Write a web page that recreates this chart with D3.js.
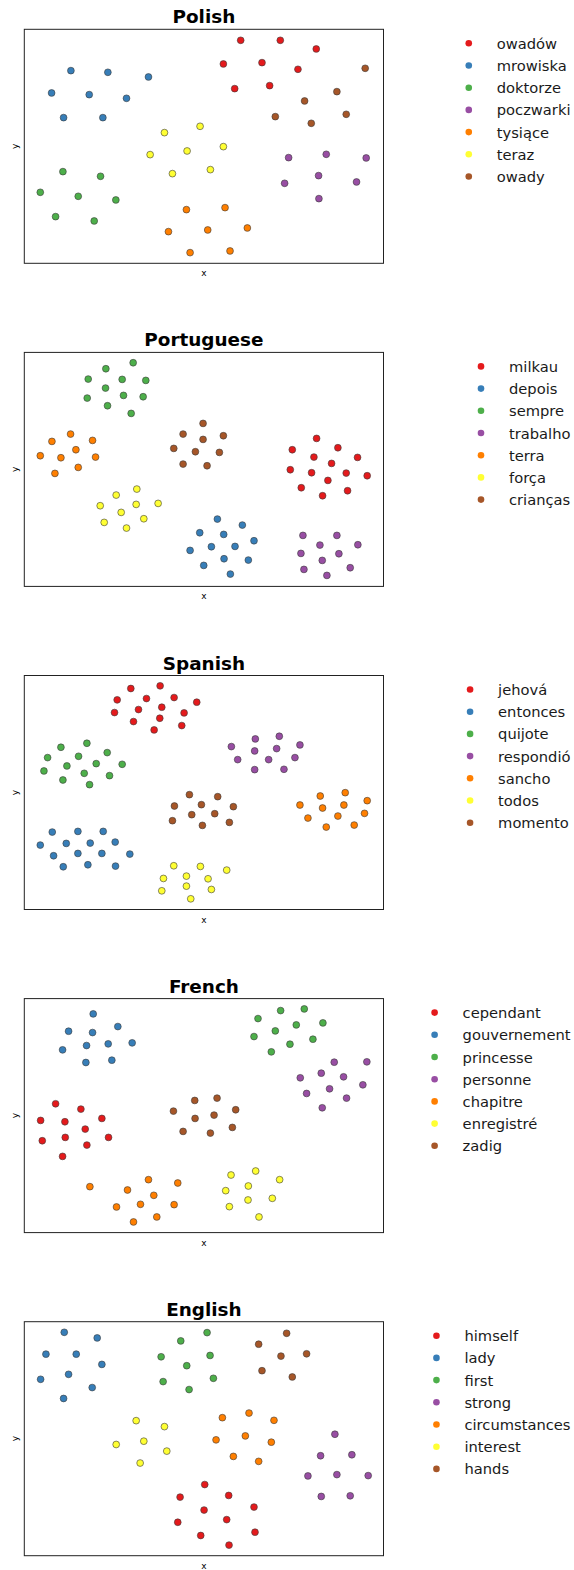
<!DOCTYPE html>
<html>
<head>
<meta charset="utf-8">
<script src="https://cdn.jsdelivr.net/npm/d3@7"></script>
<style>
  html, body { margin: 0; padding: 0; background: #fff; }
  svg { display: block; font-family: "DejaVu Sans", sans-serif; }
</style>
</head>
<body>
<svg id="chart" width="574" height="1570"></svg>
<script>
// ---- Data (t-SNE coordinates, arbitrary units) ----
const titles = ["Polish", "Portuguese", "Spanish", "French", "English"];
const colors = ["#e41a1c", "#377eb8", "#4daf4a", "#984ea3", "#ff7f00", "#ffff33", "#a65628"];

const xLimits = [13, 1092];
const yLimits = [[88, 790], [83, 785], [77, 778], [87, 790], [80, 787]];

const polishWords = ["owadów", "mrowiska", "doktorze", "poczwarki", "tysiące", "teraz", "owady"];
const polishPoints = [
  [[663,121],[782,121],[890,147],[611,192],[727,188],[835,208],[645,266],[750,257]],
  [[153,212],[264,217],[386,231],[95,279],[208,284],[320,295],[131,353],[249,353]],
  [[129,515],[242,529],[61,577],[175,589],[288,600],[107,650],[223,663]],
  [[807,473],[920,463],[1040,474],[795,550],[897,527],[1011,546],[898,596]],
  [[500,629],[616,623],[446,695],[564,690],[683,684],[511,758],[631,753]],
  [[434,398],[541,379],[391,464],[502,453],[611,440],[458,521],[572,509]],
  [[1037,205],[952,275],[855,303],[980,343],[767,350],[875,370]]
];

const portugueseWords = ["milkau", "depois", "sempre", "trabalho", "terra", "força", "crianças"];
const portuguesePoints = [
  [[891,341],[818,375],[955,369],[883,397],[1014,398],[936,416],[812,435],[876,444],[980,445],[1043,453],[925,467],[845,489],[984,498],[909,513]],
  [[593,583],[668,601],[540,624],[612,629],[703,648],[575,666],[646,665],[511,677],[613,702],[686,706],[552,722],[632,748]],
  [[340,114],[258,132],[205,163],[307,164],[378,167],[257,190],[311,212],[202,220],[370,216],[263,243],[334,266]],
  [[850,632],[952,632],[901,661],[1015,660],[844,686],[958,687],[908,707],[853,734],[992,729],[922,752]],
  [[152,328],[96,350],[218,347],[168,375],[61,393],[123,399],[227,397],[175,428],[105,446]],
  [[351,493],[289,511],[241,543],[349,539],[415,536],[304,563],[372,582],[253,593],[320,610]],
  [[550,296],[490,328],[611,333],[550,344],[462,371],[527,381],[599,383],[490,418],[562,423]]
];

const spanishWords = ["jehová", "entonces", "quijote", "respondió", "sancho", "todos", "momento"];
const spanishPoints = [
  [[333,116],[421,108],[292,150],[380,146],[463,143],[531,157],[284,188],[356,179],[426,172],[493,189],[341,215],[420,205],[403,240],[486,227]],
  [[97,546],[174,544],[250,544],[61,585],[139,580],[211,579],[286,576],[101,617],[174,610],[246,610],[330,612],[130,650],[204,644],[287,648]],
  [[201,280],[123,292],[83,323],[176,319],[262,308],[141,348],[229,341],[307,343],[72,363],[193,370],[269,377],[129,390],[209,404]],
  [[707,267],[779,259],[635,290],[705,303],[771,296],[841,285],[654,329],[747,329],[826,323],[705,359],[793,358]],
  [[902,438],[977,428],[841,465],[909,474],[973,465],[1043,452],[865,504],[955,498],[1035,490],[920,531],[1004,525]],
  [[462,647],[542,649],[621,660],[431,685],[500,678],[565,686],[426,722],[500,708],[575,718],[513,746]],
  [[509,434],[594,440],[464,468],[545,464],[641,470],[516,494],[585,491],[458,512],[548,526],[629,517]]
];

const frenchWords = ["cependant", "gouvernement", "princesse", "personne", "chapitre", "enregistré", "zadig"];
const frenchPoints = [
  [[107,403],[183,419],[62,453],[135,457],[246,447],[196,479],[67,514],[136,504],[266,504],[201,527],[128,561]],
  [[220,133],[146,185],[218,189],[294,171],[128,241],[200,228],[265,223],[337,220],[198,279],[276,272]],
  [[783,123],[854,118],[715,147],[830,166],[910,160],[767,184],[703,201],[811,224],[880,209],[755,247]],
  [[944,278],[1042,277],[842,325],[905,311],[972,322],[1030,346],[930,358],[861,372],[981,386],[908,415]],
  [[210,652],[386,631],[474,641],[323,662],[402,678],[290,713],[362,705],[463,706],[341,758],[411,743]],
  [[634,617],[708,605],[780,631],[618,664],[686,650],[685,692],[758,687],[629,712],[718,743]],
  [[525,393],[592,386],[461,425],[526,447],[583,437],[648,421],[490,486],[572,491],[638,474]]
];

const englishWords = ["himself", "lady", "first", "strong", "circumstances", "interest", "hands"];
const englishPoints = [
  [[555,572],[481,610],[627,605],[553,649],[703,640],[474,686],[621,678],[543,726],[706,716],[628,755]],
  [[133,112],[232,129],[78,178],[169,178],[246,209],[146,239],[62,254],[217,279],[131,312]],
  [[562,113],[483,138],[424,186],[571,182],[501,213],[430,261],[581,251],[508,285]],
  [[946,420],[903,485],[997,482],[865,546],[952,542],[1046,545],[905,608],[992,606]],
  [[608,370],[688,356],[763,378],[589,437],[677,425],[755,444],[641,487],[717,502]],
  [[349,379],[434,397],[289,451],[372,441],[441,471],[361,507]],
  [[801,115],[717,148],[784,184],[861,177],[727,228],[818,247]]
];

const panelWords = [polishWords, portugueseWords, spanishWords, frenchWords, englishWords];
const panelPoints = [polishPoints, portuguesePoints, spanishPoints, frenchPoints, englishPoints];

// ---- Layout ----
const svg = d3.select("#chart");
svg.append("rect").attr("width", 574).attr("height", 1570).attr("fill", "#fff");

const boxLeft = 24.3, boxW = 359.2, boxH = 234, firstTop = 29.3, step = 323.1;
const legendRight = 570.5, legendGap = 28, legendRow = 22.2;

titles.forEach((title, i) => {
  const top = firstTop + i * step;
  const g = svg.append("g").attr("transform", `translate(${boxLeft},${top})`);
  const x = d3.scaleLinear().domain(xLimits).range([0, boxW]);
  const y = d3.scaleLinear().domain(yLimits[i]).range([0, boxH]);

  // title
  g.append("text")
    .attr("x", boxW / 2).attr("y", -6)
    .attr("text-anchor", "middle")
    .attr("font-size", "18.4px").attr("font-weight", "bold")
    .attr("fill", "#000")
    .text(title);

  // points
  panelPoints[i].forEach((pts, k) => {
    g.append("g").selectAll("circle")
      .data(pts).enter().append("circle")
      .attr("cx", d => x(d[0]))
      .attr("cy", d => y(d[1]))
      .attr("r", 3.4)
      .attr("fill", colors[k])
      .attr("stroke", "#3a3a3a")
      .attr("stroke-width", 0.6);
  });

  // frame
  g.append("rect")
    .attr("x", 0).attr("y", 0).attr("width", boxW).attr("height", boxH)
    .attr("fill", "none").attr("stroke", "#222").attr("stroke-width", 1);

  // axis labels
  g.append("text")
    .attr("x", boxW / 2).attr("y", boxH + 13)
    .attr("text-anchor", "middle").attr("font-size", "9px").attr("fill", "#000")
    .text("x");
  g.append("text")
    .attr("transform", `translate(-6.5,${boxH / 2}) rotate(-90)`)
    .attr("text-anchor", "middle").attr("font-size", "9px").attr("fill", "#000")
    .text("y");

  // legend
  const lg = svg.append("g");
  const texts = lg.selectAll("text").data(panelWords[i]).enter().append("text")
    .attr("font-size", "14.7px").attr("fill", "#1a1a1a")
    .attr("dominant-baseline", "central")
    .attr("y", (d, k) => top + 14 + k * legendRow)
    .text(d => d);
  let maxW = 0;
  texts.each(function () { maxW = Math.max(maxW, this.getComputedTextLength()); });
  const textX = legendRight - maxW;
  texts.attr("x", textX);
  lg.selectAll("circle").data(panelWords[i]).enter().append("circle")
    .attr("cx", textX - legendGap)
    .attr("cy", (d, k) => top + 14 + k * legendRow)
    .attr("r", 3.3)
    .attr("fill", (d, k) => colors[k]);
});
</script>
</body>
</html>
